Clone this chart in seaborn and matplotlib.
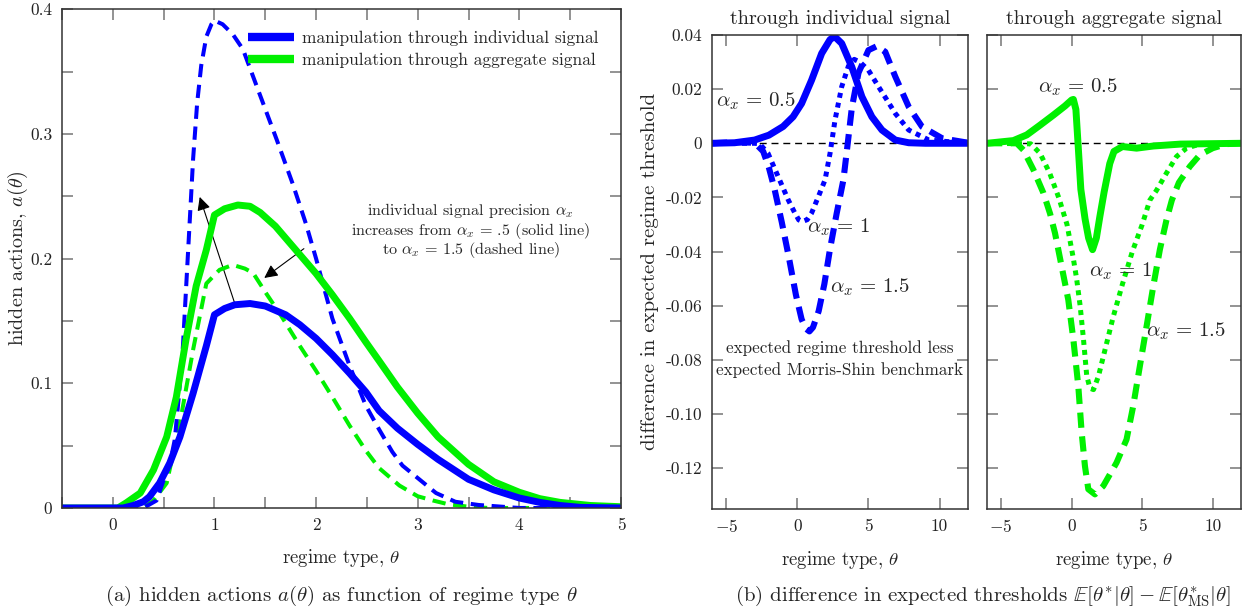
import numpy as np
import pandas as pd
import matplotlib
matplotlib.use("Agg")
import matplotlib.pyplot as plt
import seaborn as sns
from matplotlib.lines import Line2D
from matplotlib.patches import FancyArrowPatch
from matplotlib.ticker import MultipleLocator, FixedLocator

# ---------------- panel (a): hidden actions ----------------
th_ind_lo = [-0.5, 0.1, 0.2, 0.3, 0.36, 0.46, 0.56, 0.66, 0.79, 0.92, 1.0, 1.1, 1.2, 1.35, 1.5,
             1.7, 1.84, 2.0, 2.16, 2.33, 2.49, 2.62, 2.8, 3.0, 3.2, 3.5, 3.75, 4.0, 4.2, 4.4, 4.6, 5.0]
a_ind_lo = [0, 0, 0.002, 0.005, 0.009, 0.02, 0.036, 0.057, 0.092, 0.13, 0.155, 0.160, 0.163, 0.164, 0.162,
            0.155, 0.147, 0.136, 0.123, 0.108, 0.093, 0.078, 0.064, 0.051, 0.039, 0.023, 0.0145, 0.008,
            0.0045, 0.002, 0.0005, 0]

th_agg_lo = [-0.5, 0.05, 0.13, 0.27, 0.4, 0.53, 0.625, 0.72, 0.82, 0.92, 1.0, 1.1, 1.23, 1.35, 1.45,
             1.6, 1.8, 2.0, 2.16, 2.33, 2.49, 2.62, 2.8, 3.0, 3.2, 3.5, 3.75, 4.0, 4.2, 4.4, 4.7, 5.0]
a_agg_lo = [0, 0, 0.004, 0.012, 0.0305, 0.057, 0.089, 0.135, 0.178, 0.207, 0.235, 0.240, 0.243, 0.242,
            0.237, 0.226, 0.207, 0.188, 0.171, 0.152, 0.133, 0.118, 0.097, 0.076, 0.057, 0.035, 0.021,
            0.0126, 0.0075, 0.0045, 0.002, 0.001]

th_ind_hi = [-0.5, 0.3, 0.43, 0.49, 0.56, 0.61, 0.65, 0.69, 0.72, 0.75, 0.79, 0.83, 0.87, 0.92, 0.97,
             1.0, 1.08, 1.18, 1.28, 1.44, 1.61, 1.77, 1.9, 2.0, 2.16, 2.33, 2.49, 2.62, 2.75, 2.85, 3.0,
             3.18, 3.37, 3.6, 4.0, 5.0]
a_ind_hi = [0, 0, 0.006, 0.02, 0.035, 0.055, 0.09, 0.13, 0.175, 0.22, 0.28, 0.325, 0.355, 0.378, 0.388,
            0.391, 0.388, 0.38, 0.368, 0.333, 0.296, 0.26, 0.228, 0.2, 0.152, 0.114, 0.082, 0.063, 0.045,
            0.034, 0.024, 0.012, 0.005, 0.0024, 0, 0]

th_agg_hi = [-0.5, 0.3, 0.4, 0.53, 0.66, 0.79, 0.92, 1.05, 1.18, 1.3, 1.38, 1.51, 1.65, 1.84, 2.0,
             2.16, 2.33, 2.49, 2.62, 2.82, 3.0, 3.15, 3.3, 3.5, 3.7, 5.0]
a_agg_hi = [0, 0, 0.006, 0.02, 0.068, 0.127, 0.18, 0.191, 0.195, 0.192, 0.1885, 0.172, 0.155, 0.13, 0.11,
            0.089, 0.066, 0.046, 0.032, 0.018, 0.0094, 0.006, 0.003, 0.001, 0, 0]

legend_labels = ["manipulation through individual signal", "manipulation through aggregate signal"]
annot_lines = [r"individual signal precision $\alpha_x$",
               r"increases from $\alpha_x\,=\,$.5 (solid line)",
               r"to $\alpha_x\,=\,1.5$ (dashed line)"]

# ---------------- panel (b): threshold differences ----------------
th_b_ind_05 = [-6, -4.41, -3.0, -2.0, -1.0, -0.3, 0.3, 1.0, 1.71, 2.3, 2.61, 3.12, 3.83, 4.54, 5.24, 5.95,
               6.89, 7.83, 9.0, 12]
v_b_ind_05 = [0, 0.0002, 0.0012, 0.003, 0.0062, 0.0098, 0.0147, 0.0233, 0.0332, 0.0383, 0.0395, 0.0369,
              0.0282, 0.0172, 0.0098, 0.0049, 0.0012, 0.0002, 0, 0]

th_b_ind_10 = [-6, -3.0, -2.65, -2.06, -1.35, -0.64, -0.2, 0.1, 0.35, 0.7, 1.0, 1.48, 1.95, 2.3, 2.65,
               3.12, 3.59, 4.0, 4.4, 5.0, 5.71, 6.3, 6.89, 7.83, 9.25, 12]
v_b_ind_10 = [0, 0, -0.0002, -0.0037, -0.0123, -0.0209, -0.0255, -0.0283, -0.0289, -0.0282, -0.0258,
              -0.0197, -0.0135, -0.0037, 0.0086, 0.0209, 0.0285, 0.031, 0.030, 0.027, 0.0209, 0.016,
              0.011, 0.0049, 0.0012, 0]

th_b_ind_15 = [-6, -4.4, -3.0, -2.4, -2.0, -1.6, -1.1, -0.6, -0.1, 0.3, 0.6, 0.85, 1.1, 1.5, 1.9, 2.3,
               2.77, 3.24, 3.5, 3.83, 4.3, 5.0, 5.6, 6.18, 6.89, 7.83, 8.77, 10.2, 12]
v_b_ind_15 = [0, 0.0004, 0.0002, -0.003, -0.009, -0.017, -0.029, -0.042, -0.056, -0.065, -0.0685,
              -0.0695, -0.068, -0.062, -0.052, -0.039, -0.0258, -0.0135, -0.002, 0.013, 0.026, 0.0344,
              0.0359, 0.0338, 0.0246, 0.0135, 0.0061, 0.0018, 0.0002]

th_b_agg_05 = [-6, -4.13, -3.18, -2.24, -1.3, -0.47, 0.0, 0.12, 0.3, 0.45, 0.65, 0.95, 1.2, 1.48, 1.75,
               2.0, 2.3, 2.7, 3.0, 3.6, 4.6, 5.8, 7.7, 12]
v_b_agg_05 = [0, 0.001, 0.0031, 0.0067, 0.0104, 0.0138, 0.016, 0.0162, 0.0125, 0, -0.017, -0.028,
              -0.035, -0.0393, -0.035, -0.027, -0.018, -0.0075, -0.003, -0.0012, -0.0018, -0.001,
              -0.0003, 0]

th_b_agg_10 = [-6, -2.9, -2.24, -1.56, -0.9, -0.33, 0.1, 0.35, 0.6, 0.83, 1.07, 1.3, 1.55, 1.9, 2.4,
               2.95, 3.6, 4.3, 5.0, 5.54, 6.0, 6.72, 7.43, 8.14, 9.08, 12]
v_b_agg_10 = [0, -0.0002, -0.0037, -0.011, -0.0203, -0.030, -0.042, -0.05, -0.060, -0.072, -0.086,
              -0.0905, -0.091, -0.086, -0.0755, -0.064, -0.052, -0.04, -0.03, -0.021, -0.0175, -0.011,
              -0.0049, -0.0018, -0.0003, 0]

th_b_agg_15 = [-6, -3.89, -3.42, -2.71, -2.0, -1.53, -1.18, -0.71, -0.24, 0.12, 0.47, 0.71, 0.94, 1.18,
               1.65, 2.24, 3.18, 3.89, 4.36, 4.83, 5.31, 5.78, 6.25, 6.72, 7.1, 7.6, 8.37, 9.08, 10.0,
               10.97, 12]
v_b_agg_15 = [0, 0, -0.0025, -0.0098, -0.0184, -0.026, -0.0332, -0.0455, -0.0578, -0.0725, -0.0897,
              -0.1069, -0.1192, -0.1278, -0.1297, -0.1266, -0.118, -0.1094, -0.0971, -0.0824, -0.0676,
              -0.0529, -0.0393, -0.0283, -0.021, -0.0145, -0.0086, -0.0043, -0.0018, -0.0003, 0]

a_yticks = [0, 0.1, 0.2, 0.3, 0.4]
a_yticklabels = ["0", "0.1", "0.2", "0.3", "0.4"]
a_xticks = [0, 1, 2, 3, 4, 5]
b_yticks = [-0.12, -0.10, -0.08, -0.06, -0.04, -0.02, 0, 0.02, 0.04]
b_yticklabels = ["-0.12", "-0.10", "-0.08", "-0.06", "-0.04", "-0.02", "0", "0.02", "0.04"]
b_xticks = [-5, 0, 5, 10]
b_xticklabels = [r"$-5$", "0", "5", "10"]

BLUE = "#0000ff"
GREEN = "#00f000"

sns.set_theme(style="ticks")
plt.rcParams.update({
    "font.family": ["cmr10", "DejaVu Serif"],
    "mathtext.fontset": "cm",
    "axes.unicode_minus": False,
    "axes.formatter.use_mathtext": True,
    "axes.edgecolor": "#333333",
    "axes.linewidth": 1.1,
})

fig = plt.figure(figsize=(12.5, 6.11), dpi=100)
axA = fig.add_axes([0.0496, 0.1686, 0.4472, 0.8162])
axB1 = fig.add_axes([0.5696, 0.1674, 0.2048, 0.7753])
axB2 = fig.add_axes([0.7896, 0.1674, 0.2032, 0.7753])


def line(ax, xs, ys, color, lw, ls="-", dashes=None):
    df = pd.DataFrame({"x": xs, "y": ys})
    sns.lineplot(data=df, x="x", y="y", ax=ax, color=color, linewidth=lw, linestyle=ls,
                 sort=False, estimator=None, solid_capstyle="butt")
    ln = ax.lines[-1]
    if dashes is not None:
        # dash pattern given in multiples of the line width
        ln.set_dashes(dashes)
        ln.set_dash_capstyle("butt")
    return ln


# ---- panel (a) ----
line(axA, th_agg_hi, a_agg_hi, GREEN, 2.9, dashes=(3.3, 1.9))
line(axA, th_ind_hi, a_ind_hi, BLUE, 2.9, dashes=(3.3, 1.9))
line(axA, th_agg_lo, a_agg_lo, GREEN, 5.0)
line(axA, th_ind_lo, a_ind_lo, BLUE, 5.0)

axA.set_xlim(-0.5, 5)
axA.set_ylim(0, 0.4)
axA.xaxis.set_major_locator(FixedLocator(a_xticks))
axA.set_xticklabels([str(t) for t in a_xticks])
axA.xaxis.set_minor_locator(MultipleLocator(0.5))
axA.yaxis.set_major_locator(FixedLocator(a_yticks))
axA.set_yticklabels(a_yticklabels)
axA.yaxis.set_minor_locator(MultipleLocator(0.05))
axA.set_xlabel(r"regime type, $\theta$", fontsize=13.5, labelpad=10)
axA.set_ylabel(r"hidden actions, $a(\theta)$", fontsize=14.5, labelpad=0)

handles = [Line2D([], [], color=BLUE, lw=6, solid_capstyle="butt"),
           Line2D([], [], color=GREEN, lw=6, solid_capstyle="butt")]
axA.legend(handles, legend_labels, loc="upper left", bbox_to_anchor=(0.332, 0.958), frameon=False,
           fontsize=12.5, handlelength=2.7, handletextpad=0.45, labelspacing=0.4,
           borderaxespad=0, borderpad=0)

for i, (txt, yv) in enumerate(zip(annot_lines, [0.2385, 0.2225, 0.2068])):
    axA.text(3.52, yv, txt, ha="center", va="center", fontsize=11.6)

for (p0, p1) in [((1.2, 0.164), (0.855, 0.2495)), ((1.88, 0.208), (1.49, 0.1845))]:
    arr = FancyArrowPatch(p0, p1, arrowstyle="-|>", mutation_scale=20, lw=0.8, color="black",
                          shrinkA=0, shrinkB=0)
    axA.add_patch(arr)

# ---- panel (b) ----
for ax in (axB1, axB2):
    ax.axhline(0, color="black", lw=1.0, dashes=(5, 3.5), zorder=1)

line(axB1, th_b_ind_05, v_b_ind_05, BLUE, 5.0)
line(axB1, th_b_ind_10, v_b_ind_10, BLUE, 3.6, dashes=(1, 1))
line(axB1, th_b_ind_15, v_b_ind_15, BLUE, 4.4, dashes=(2.5, 1.4))

line(axB2, th_b_agg_05, v_b_agg_05, GREEN, 5.0)
line(axB2, th_b_agg_10, v_b_agg_10, GREEN, 3.6, dashes=(1, 1))
line(axB2, th_b_agg_15, v_b_agg_15, GREEN, 4.4, dashes=(2.5, 1.4))

for ax in (axB1, axB2):
    ax.set_xlim(-6, 12)
    ax.set_ylim(-0.135, 0.04)
    ax.xaxis.set_major_locator(FixedLocator(b_xticks))
    ax.set_xticklabels(b_xticklabels)
    ax.yaxis.set_major_locator(FixedLocator(b_yticks))
    ax.set_xlabel(r"regime type, $\theta$", fontsize=13.5, labelpad=10)
    ax.set_ylabel("")
axB1.set_yticklabels(b_yticklabels)
axB2.set_yticklabels([])
axB1.set_ylabel("difference in expected regime threshold", fontsize=15, labelpad=5)
axB1.set_title("through individual signal", fontsize=14.5, pad=8)
axB2.set_title("through aggregate signal", fontsize=14.5, pad=8)

axB1.text(-5.7, 0.0155, r"$\alpha_x\,=\,0.5$", fontsize=15, ha="left", va="center")
axB1.text(2.9, -0.031, r"$\alpha_x\,=\,1$", fontsize=15, ha="center", va="center")
axB1.text(5.1, -0.053, r"$\alpha_x\,=\,1.5$", fontsize=15, ha="center", va="center")
axB1.text(3.0, -0.0758, "expected regime threshold less", fontsize=12.3, ha="center", va="center")
axB1.text(3.0, -0.0839, "expected Morris-Shin benchmark", fontsize=12.3, ha="center", va="center")

axB2.text(0.45, 0.0208, r"$\alpha_x\,=\,0.5$", fontsize=15, ha="center", va="center")
axB2.text(3.5, -0.0474, r"$\alpha_x\,=\,1$", fontsize=15, ha="center", va="center")
axB2.text(8.1, -0.0696, r"$\alpha_x\,=\,1.5$", fontsize=15, ha="center", va="center")

for ax in (axA, axB1, axB2):
    for s in ax.spines.values():
        s.set_visible(True)
        s.set_color("#333333")
        s.set_linewidth(1.1)
    ax.tick_params(which="both", direction="in", length=8, width=1.3, color="#8a8a8a",
                   top=True, right=True, labelsize=12.5, pad=7, labelcolor="#222222")
    ax.set_facecolor("white")

fig.text(0.2733, 0.005, r"(a) hidden actions $a(\theta)$ as function of regime type $\theta$",
         fontsize=15, ha="center", va="bottom")
fig.text(0.7865, 0.005,
         r"(b) difference in expected thresholds $\mathbb{E}[\theta^{*}|\theta] - \mathbb{E}[\theta^{*}_{\rm MS}|\theta]$",
         fontsize=15, ha="center", va="bottom")

fig.savefig("out.png", dpi=100, facecolor="white")
